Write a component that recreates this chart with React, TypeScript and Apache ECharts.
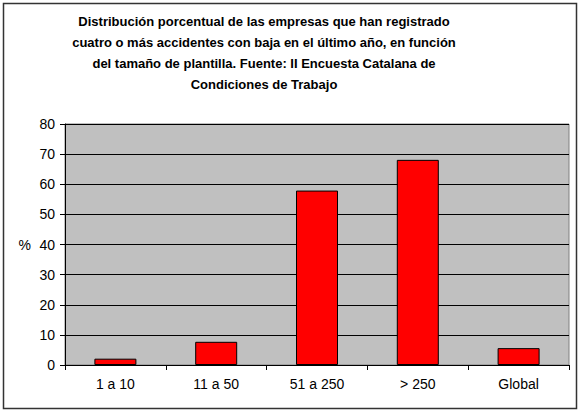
import React, { useEffect, useRef } from "react";
import * as echarts from "echarts";

const categories = ["1 a 10", "11 a 50", "51 a 250", "> 250", "Global"];
const values = [2.1, 7.7, 57.9, 68.1, 5.6];
const yTicks = { min: 0, max: 80, interval: 10 };
const titleText =
  "Distribución porcentual de las empresas que han registrado\ncuatro o más accidentes con baja en el último año, en función\ndel tamaño de plantilla. Fuente: II Encuesta Catalana de\nCondiciones de Trabajo";

export default function App() {
  const ref = useRef<HTMLDivElement>(null);
  useEffect(() => {
    if (!ref.current) return;
    const chart = echarts.init(ref.current, null, { renderer: "svg" });
    const font = "'Liberation Sans', Arial, sans-serif";
    chart.setOption({
      animation: false,
      backgroundColor: "#ffffff",
      textStyle: { fontFamily: font },
      graphic: [
        {
          type: "rect",
          shape: { x: 3.5, y: 3.5, width: 573, height: 405 },
          style: { fill: "none", stroke: "#333333", lineWidth: 1.5 },
          silent: true,
        },
        {
          type: "text",
          x: 264,
          y: 11,
          style: {
            text: titleText,
            font: `bold 13px ${font}`,
            fill: "#000",
            textAlign: "center",
            textVerticalAlign: "top",
            lineHeight: 21,
          },
        },
      ],
      grid: {
        left: 65,
        right: 11,
        top: 124,
        bottom: 51,
        show: true,
        backgroundColor: "#c0c0c0",
        borderColor: "#808080",
        borderWidth: 1,
      },
      xAxis: {
        type: "category",
        data: categories,
        axisLine: { lineStyle: { color: "#000", width: 1 } },
        axisTick: { show: true, length: 5, lineStyle: { color: "#000" } },
        axisLabel: { color: "#000", fontSize: 14, fontFamily: font, margin: 12 },
      },
      yAxis: {
        type: "value",
        min: yTicks.min,
        max: yTicks.max,
        interval: yTicks.interval,
        name: "%",
        nameLocation: "middle",
        nameRotate: 0,
        nameGap: 34,
        nameTextStyle: { color: "#000", fontSize: 14, fontFamily: font },
        axisLine: { show: true, lineStyle: { color: "#000", width: 1 } },
        axisTick: { show: true, length: 5, lineStyle: { color: "#000" } },
        axisLabel: { color: "#000", fontSize: 14, fontFamily: font, margin: 10 },
        splitLine: { show: true, lineStyle: { color: "#000", width: 1 } },
      },
      series: [
        {
          type: "bar",
          data: values,
          barWidth: 42,
          itemStyle: { color: "#ff0000", borderColor: "#000", borderWidth: 1 },
        },
      ],
    });
    return () => chart.dispose();
  }, []);
  return (
    <div
      ref={ref}
      style={{ position: "fixed", left: 0, top: 0, width: 580, height: 416 }}
    />
  );
}
